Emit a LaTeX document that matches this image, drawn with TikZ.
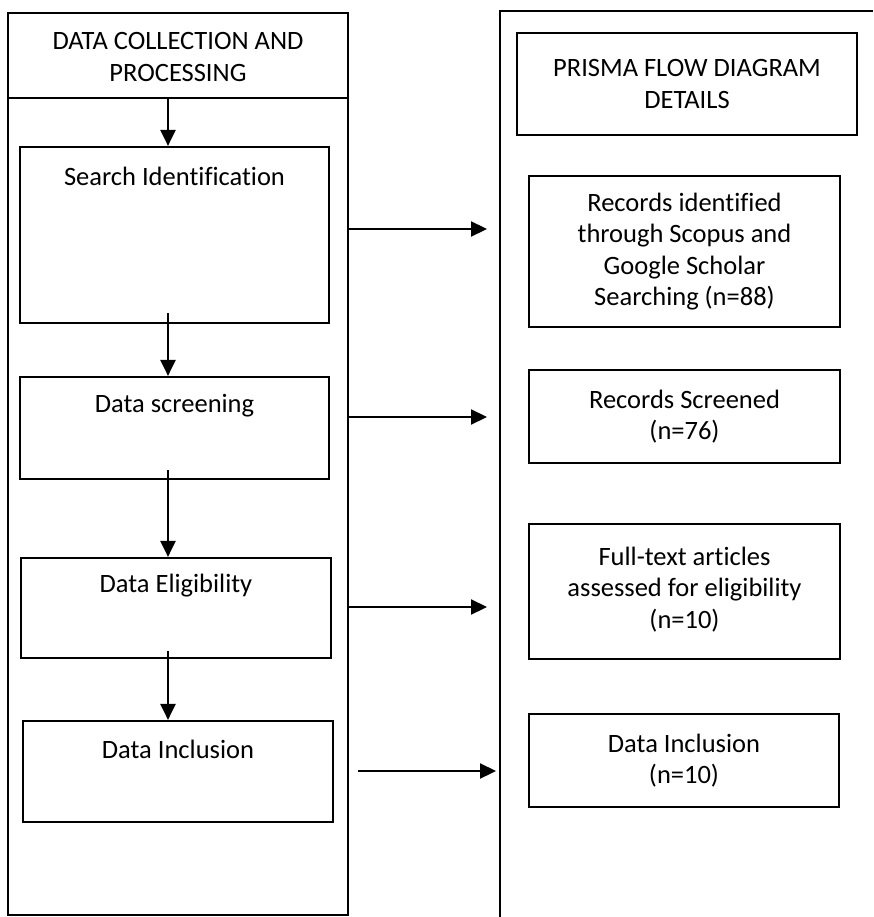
\documentclass[tikz,border=0pt]{standalone}
\usepackage{fontspec}
\setmainfont{Carlito}[Ligatures=NoCommon]
\usetikzlibrary{arrows.meta,calc}
\begin{document}
\begin{tikzpicture}[x=1pt,y=-1pt,
  line width=2.2pt,
  boxnode/.style={draw, line width=2.2pt, inner sep=0pt, align=center,
    font=\fontsize{26.5}{31.5}\selectfont},
  txt/.style={inner sep=0pt, align=center, font=\fontsize{26.5}{31.5}\selectfont},
  arr/.style={line width=2.2pt, -{Triangle[length=16pt,width=15pt]}}
]
\useasboundingbox (0,0) rectangle (873,917);

% left panel
\node[boxnode, minimum width=340pt, minimum height=902pt] (lp) at (178,464) {};
\coordinate (hdl) at (8,98);
\coordinate (hdr) at (348,98);
\draw (hdl) -- (hdr);
\node[txt] (lh) at (178,57) {DATA COLLECTION AND\\PROCESSING};

\node[boxnode, minimum width=309pt, minimum height=176pt] (b1) at (174.5,235) {};
\node[boxnode, minimum width=309pt, minimum height=102pt] (b2) at (174.5,428) {};
\node[boxnode, minimum width=310pt, minimum height=100pt] (b3) at (176,608) {};
\node[boxnode, minimum width=310pt, minimum height=101pt] (b4) at (178,771.5) {};

\node[txt] (t1) at ($(b1.north)+(0,30)$) {Search Identification};
\node[txt] (t2) at ($(b2.north)+(0,30)$) {Data screening};
\node[txt] (t3) at ($(b3.north)+(0,29)$) {Data Eligibility};
\node[txt] (t4) at ($(b4.north)+(0,29)$) {Data Inclusion};

% vertical arrows
\coordinate (ax) at (168,98);
\draw[arr] (ax) -- (b1.north -| ax);
\draw[arr] ($(b1.south -| ax)+(0,-11)$) -- (b2.north -| ax);
\draw[arr] ($(b2.south -| ax)+(0,-10)$) -- (b3.north -| ax);
\draw[arr] ($(b3.south -| ax)+(0,-8)$) -- (b4.north -| ax);

% right panel (open frame)
\coordinate (rp1) at (500,917);
\coordinate (rp2) at (500,11);
\coordinate (rp3) at (873,11);
\draw (rp1) -- (rp2) -- (rp3);

\node[boxnode, minimum width=340pt, minimum height=102pt] (rh) at (687,84) {PRISMA FLOW DIAGRAM\\DETAILS};
\node[boxnode, minimum width=311pt, minimum height=151pt] (r1) at (684.5,251.5) {Records identified\\through Scopus and\\Google Scholar\\Searching (n=88)};
\node[boxnode, minimum width=311pt, minimum height=93pt] (r2) at (684.5,416.5) {Records Screened\\(n=76)};
\node[boxnode, minimum width=311pt, minimum height=135pt, text depth=8pt] (r3) at (684.5,591.5) {Full-text articles\\assessed for eligibility\\(n=10)};
\node[boxnode, minimum width=310pt, minimum height=93pt] (r4) at (684,760.5) {Data Inclusion\\(n=10)};

% horizontal arrows
\coordinate (e1) at (487,229);
\coordinate (e2) at (487,417);
\coordinate (e3) at (487,607);
\coordinate (s4) at (358,771);
\coordinate (e4) at (496,771);
\draw[arr] (lp.east |- e1) -- (e1);
\draw[arr] (lp.east |- e2) -- (e2);
\draw[arr] (lp.east |- e3) -- (e3);
\draw[arr] (s4) -- (e4);
\end{tikzpicture}
\end{document}
